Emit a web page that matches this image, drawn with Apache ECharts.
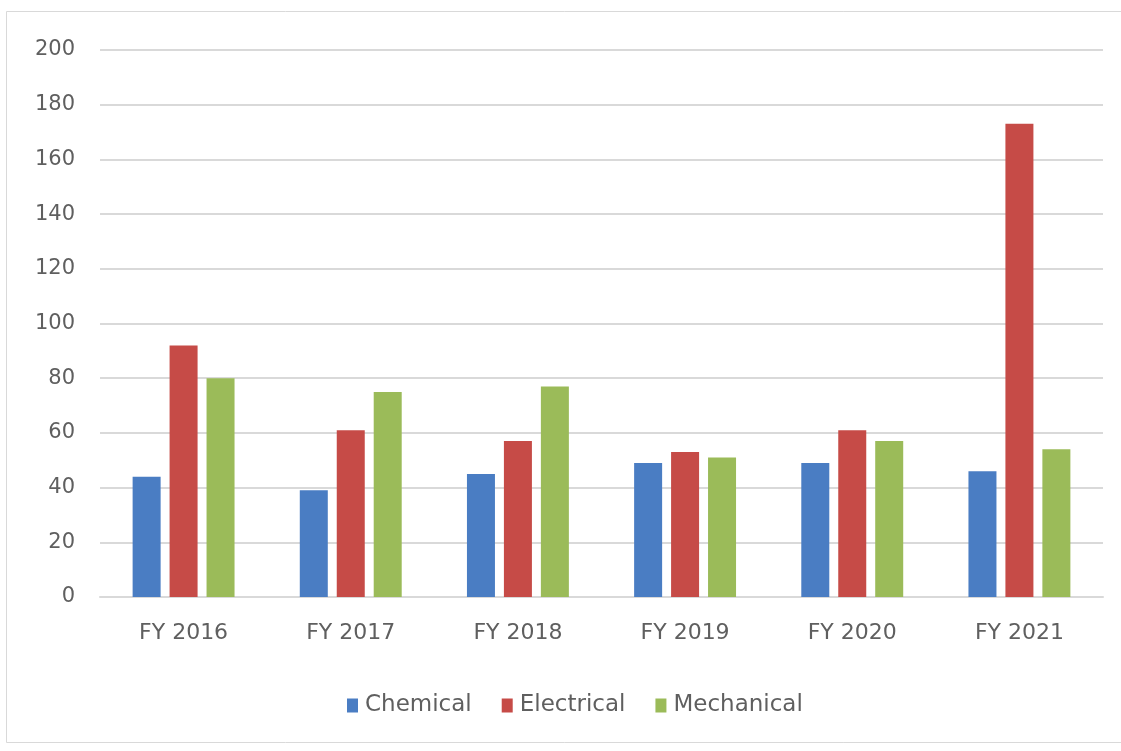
<!DOCTYPE html>
<html>
<head>
<meta charset="utf-8">
<script src="https://cdn.jsdelivr.net/npm/echarts@6/dist/echarts.min.js"></script>
<style>
  html, body { margin: 0; padding: 0; background: #ffffff; }
  #chart { width: 1121px; height: 751px; }
</style>
</head>
<body>
<div id="chart"></div>
<script>
// Fiscal years on the category axis
const categories = ['FY 2016', 'FY 2017', 'FY 2018', 'FY 2019', 'FY 2020', 'FY 2021'];

// Values per discipline
const chemical   = [44, 39, 45, 49, 49, 46];
const electrical = [92, 61, 57, 53, 61, 173];
const mechanical = [80, 75, 77, 51, 57, 54];

const seriesNames = ['Chemical', 'Electrical', 'Mechanical'];
const seriesColors = ['#4A7DC3', '#C64B47', '#9BBB59'];

const labelColor = '#5F5F5F';
const gridColor = '#D9D9D9';
const fontFamily = '"DejaVu Sans", sans-serif';

const chart = echarts.init(document.getElementById('chart'));

const values = [chemical, electrical, mechanical];

chart.setOption({
  backgroundColor: '#ffffff',
  animation: false,
  graphic: [{
    type: 'rect',
    shape: { x: 6.5, y: 11.5, width: 1120, height: 731 },
    style: { fill: 'none', stroke: '#D9D9D9', lineWidth: 1 },
    silent: true,
    z: -1
  }],
  grid: { left: 100, right: 18, top: 50, bottom: 154, containLabel: false },
  legend: {
    data: seriesNames,
    top: 689,
    left: 342,
    icon: 'rect',
    itemWidth: 11,
    itemHeight: 14,
    itemGap: 30,
    textStyle: { color: labelColor, fontSize: 23, fontFamily: fontFamily, padding: [0, 0, 0, 2] }
  },
  xAxis: {
    type: 'category',
    data: categories,
    axisLine: { show: true, lineStyle: { color: gridColor, width: 2 } },
    axisTick: { show: false },
    axisLabel: { color: labelColor, fontSize: 22, fontFamily: fontFamily, margin: 25 }
  },
  yAxis: {
    type: 'value',
    min: 0,
    max: 200,
    interval: 20,
    axisLine: { show: false },
    axisTick: { show: false },
    axisLabel: { color: labelColor, fontSize: 21, fontFamily: fontFamily, margin: 25 },
    splitLine: { lineStyle: { color: gridColor, width: 2 } }
  },
  series: seriesNames.map((name, i) => ({
    name: name,
    type: 'bar',
    data: values[i],
    barWidth: 28,
    barGap: '32%',
    itemStyle: { color: seriesColors[i] }
  }))
});
</script>
</body>
</html>
